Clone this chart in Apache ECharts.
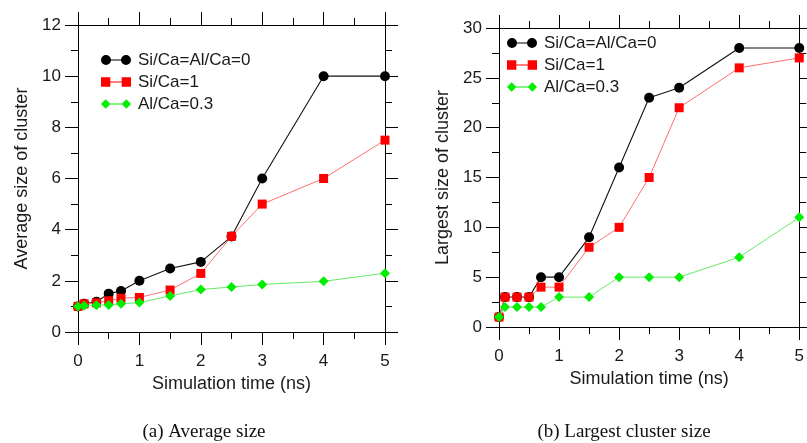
<!DOCTYPE html>
<html>
<head>
<meta charset="utf-8">
<script src="https://cdn.jsdelivr.net/npm/echarts@6/dist/echarts.min.js"></script>
<style>
html,body{margin:0;padding:0;background:#fff;}
#c{width:807px;height:443px;}
</style>
</head>
<body>
<div id="c"></div>
<script>
// ---- data ----
var times = [0, 0.1, 0.3, 0.5, 0.7, 1, 1.5, 2, 2.5, 3, 4, 5];
var seriesNames = ['Si/Ca=Al/Ca=0', 'Si/Ca=1', 'Al/Ca=0.3'];
// (a) average size of cluster
var avgPure  = [1.0, 1.1, 1.18, 1.5, 1.6, 2.0, 2.48, 2.74, 3.73, 6.0, 10.0, 10.0];
var avgSi    = [1.0, 1.1, 1.14, 1.22, 1.32, 1.35, 1.64, 2.29, 3.74, 5.0, 6.0, 7.5];
var avgAl    = [1.0, 1.03, 1.05, 1.06, 1.1, 1.15, 1.41, 1.66, 1.76, 1.86, 1.98, 2.3];
// (b) largest size of cluster
var maxPure  = [1, 3, 3, 3, 5, 5, 9, 16, 23, 24, 28, 28];
var maxSi    = [1, 3, 3, 3, 4, 4, 8, 10, 15, 22, 26, 27];
var maxAl    = [1, 2, 2, 2, 2, 3, 3, 5, 5, 5, 7, 11];
var xTicks = [0, 1, 2, 3, 4, 5];
var captions = ['(a) Average size', '(b) Largest cluster size'];
var xTitle = 'Simulation time (ns)';
var yTitles = ['Average size of cluster', 'Largest size of cluster'];

function pairs(xs, ys) { return xs.map(function (x, i) { return [x, ys[i]]; }); }

var FONT = '"Liberation Sans", Arial, Helvetica, sans-serif';
var TXT = '#1a1a1a';

var styles = [
  { symbol: 'circle', size: 10, color: '#000000', line: '#111111', lw: 1.1 },
  { symbol: 'rect', size: 9, color: '#ff0000', line: '#ff7070', lw: 1 },
  { symbol: 'diamond', size: 10, color: '#00ee00', line: '#66e866', lw: 1 }
];
var icons = [
  'path://M0,5A5,5 0 1,1 10,5A5,5 0 1,1 0,5Z M9,4.45L21,4.45L21,5.55L9,5.55Z M20,5A5,5 0 1,1 30,5A5,5 0 1,1 20,5Z',
  'path://M0.5,0.5L9.5,0.5L9.5,9.5L0.5,9.5Z M9,4.45L21,4.45L21,5.55L9,5.55Z M20.5,0.5L29.5,0.5L29.5,9.5L20.5,9.5Z',
  'path://M5,0.5L9.5,5L5,9.5L0.5,5Z M9,4.45L21,4.45L21,5.55L9,5.55Z M25,0.5L29.5,5L25,9.5L20.5,5Z'
];

function mkSeries(name, idx, xi, yi, vals) {
  var s = styles[idx];
  return {
    name: name, type: 'line', xAxisIndex: xi, yAxisIndex: yi,
    data: pairs(times, vals),
    symbol: s.symbol, symbolSize: s.size, showSymbol: true,
    itemStyle: { color: s.color, borderWidth: 0 },
    lineStyle: { color: s.line, width: s.lw },
    emphasis: { disabled: true }, animation: false, z: 2 + idx
  };
}

function xAxisCfg(gi, bottom) {
  return {
    type: 'value', gridIndex: gi, min: 0, max: 5, interval: 1,
    position: bottom ? 'bottom' : 'top',
    name: bottom ? xTitle : '', nameLocation: 'middle', nameGap: gi === 0 ? 42 : 41,
    nameTextStyle: { fontFamily: FONT, fontSize: 18, color: TXT },
    axisLine: { show: true, onZero: false, lineStyle: { color: '#000', width: 1 } },
    axisTick: { show: true, length: 13, lineStyle: { color: '#000', width: 1 } },
    minorTick: { show: true, splitNumber: 2, length: 7, lineStyle: { color: '#000', width: 1 } },
    axisLabel: { show: bottom, margin: 21, fontFamily: FONT, fontSize: 17, color: TXT,
      showMinLabel: true, showMaxLabel: true,
      formatter: function (v) { return xTicks.indexOf(v) >= 0 ? String(v) : ''; } },
    splitLine: { show: false }, minorSplitLine: { show: false }
  };
}
function yAxisCfg(gi, left, max, interval) {
  return {
    type: 'value', gridIndex: gi, min: 0, max: max, interval: interval,
    position: left ? 'left' : 'right',
    name: left ? yTitles[gi] : '', nameLocation: 'middle', nameGap: 47,
    nameTextStyle: { fontFamily: FONT, fontSize: 18, color: TXT },
    axisLine: { show: true, onZero: false, lineStyle: { color: '#000', width: 1 } },
    axisTick: { show: true, length: 13, lineStyle: { color: '#000', width: 1 } },
    minorTick: { show: true, splitNumber: 2, length: 7, lineStyle: { color: '#000', width: 1 } },
    axisLabel: { show: left, margin: 17, fontFamily: FONT, fontSize: 17, color: TXT,
      showMinLabel: true, showMaxLabel: true },
    splitLine: { show: false }, minorSplitLine: { show: false }
  };
}

function legendCfg(gi, left, top) {
  return {
    show: true, orient: 'vertical', left: left, top: top,
    data: seriesNames.map(function (n, i) { return { name: n, icon: icons[i] }; }),
    itemWidth: 30, itemHeight: 10, itemGap: 4,
    itemStyle: { borderWidth: 0 },
    lineStyle: { width: 0 },
    textStyle: { fontFamily: FONT, fontSize: 17, color: TXT, lineHeight: 18, padding: [0, 0, 0, 2] },
    selectedMode: false, padding: 0
  };
}

var chart = echarts.init(document.getElementById('c'), null, { renderer: 'canvas' });
chart.setOption({
  animation: false,
  backgroundColor: '#ffffff',
  grid: [
    { left: 78, right: 422, top: 25, bottom: 111 },
    { left: 499, right: 7, top: 28, bottom: 116 }
  ],
  xAxis: [xAxisCfg(0, true), xAxisCfg(0, false), xAxisCfg(1, true), xAxisCfg(1, false)],
  yAxis: [yAxisCfg(0, true, 12, 2), yAxisCfg(0, false, 12, 2), yAxisCfg(1, true, 30, 5), yAxisCfg(1, false, 30, 5)],
  legend: [legendCfg(0, 101, 51), legendCfg(1, 507, 34)],
  series: [
    mkSeries(seriesNames[0], 0, 0, 0, avgPure),
    mkSeries(seriesNames[1], 1, 0, 0, avgSi),
    mkSeries(seriesNames[2], 2, 0, 0, avgAl),
    mkSeries(seriesNames[0], 0, 2, 2, maxPure),
    mkSeries(seriesNames[1], 1, 2, 2, maxSi),
    mkSeries(seriesNames[2], 2, 2, 2, maxAl)
  ],
  graphic: [
    { type: 'text', style: { text: captions[0], x: 204, y: 432, align: 'center', verticalAlign: 'middle',
      font: '19px "Liberation Serif", "Times New Roman", serif', fill: '#111' } },
    { type: 'text', style: { text: captions[1], x: 624, y: 432, align: 'center', verticalAlign: 'middle',
      font: '19px "Liberation Serif", "Times New Roman", serif', fill: '#111' } }
  ]
});
</script>
</body>
</html>
